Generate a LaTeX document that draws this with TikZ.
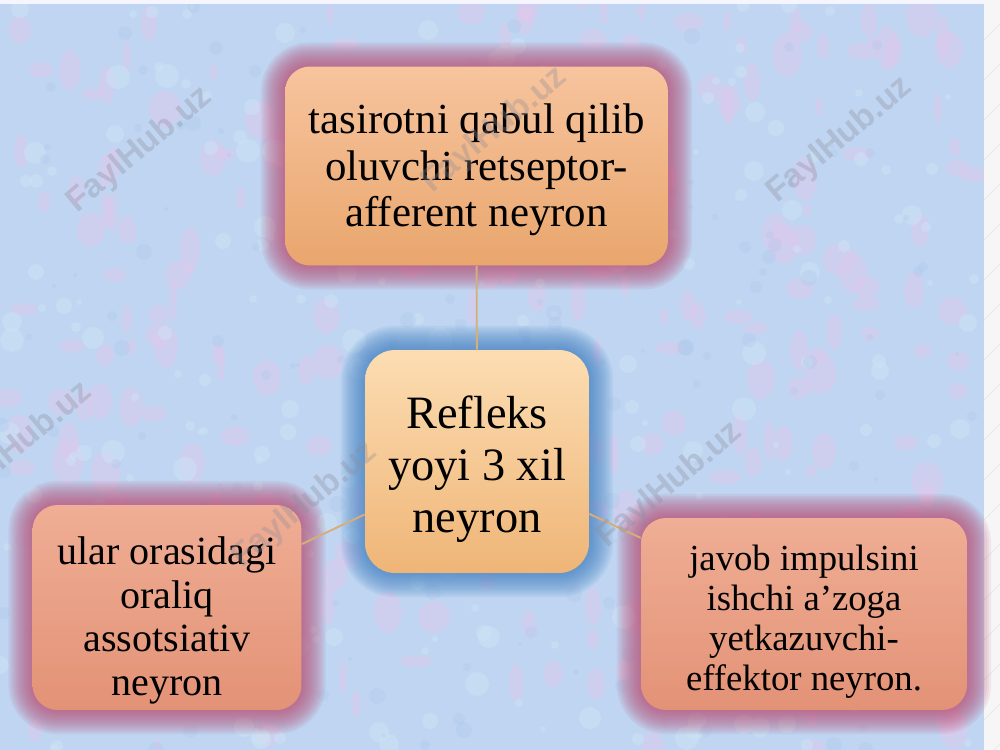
\documentclass[tikz,border=0pt]{standalone}
\usepackage{fontspec}
\setmainfont{Liberation Serif}
\newfontfamily\wmfont{Liberation Sans}
\pgfdeclarelayer{bglayer}
\pgfdeclarelayer{glowlayer}
\pgfsetlayers{bglayer,glowlayer,main}
\definecolor{bgblue}{HTML}{BFD5F1}
\definecolor{bgpink}{HTML}{E6C6EC}
\definecolor{bgcyan}{HTML}{CDE6F6}
\definecolor{bgdeep}{HTML}{AFC8EC}
\definecolor{glowpink}{HTML}{B8466C}
\definecolor{glowblue}{HTML}{3C7DC0}
\definecolor{linktan}{HTML}{D6AE78}
\definecolor{topA}{HTML}{F7C49E}
\definecolor{topB}{HTML}{E9A66D}
\definecolor{cenA}{HTML}{FCDDB2}
\definecolor{cenB}{HTML}{EFB577}
\definecolor{sideA}{HTML}{EFAE95}
\definecolor{sideB}{HTML}{E39276}
\definecolor{wmgray}{HTML}{8C8C9A}
\tikzset{
  box/.style={shape=rectangle, inner sep=0pt, rounded corners=0.5cm},
  label text/.style={align=center, inner sep=0pt},
  link/.style={draw=linktan, line width=1.1pt},
  wm/.style={font=\wmfont\bfseries\fontsize{19}{19}\selectfont, text=wmgray, opacity=0.33, rotate=40}
}
\newcommand{\glowbox}[3]{%
  \begin{pgfonlayer}{glowlayer}
  \foreach \w in {0.95,0.87,...,0.05}{
    \draw[#2, line width=\w cm, opacity=0.085, rounded corners=#3]
      (#1.north west) rectangle (#1.south east);
  }
  \end{pgfonlayer}}
\begin{document}
\begin{tikzpicture}[x=0.02cm,y=-0.02cm]
\useasboundingbox (0,0) rectangle (1000,750);
\begin{pgfonlayer}{bglayer}
  \fill[bgblue] (0,0) rectangle (984,750);
  \pgfmathsetseed{7}
  \foreach \i in {1,...,260}{
    \pgfmathsetmacro{\px}{random(0,975)}
    \pgfmathsetmacro{\py}{random(4,750)}
    \pgfmathsetmacro{\rx}{random(4,16)}
    \pgfmathsetmacro{\ry}{random(6,22)}
    \fill[bgpink, opacity=0.4] (\px,\py) ellipse [x radius=\rx*0.02cm, y radius=\ry*0.02cm];
  }
  \foreach \i in {1,...,260}{
    \pgfmathsetmacro{\px}{random(0,975)}
    \pgfmathsetmacro{\py}{random(4,750)}
    \pgfmathsetmacro{\rx}{random(3,12)}
    \fill[bgcyan, opacity=0.45] (\px,\py) circle [radius=\rx*0.02cm];
  }
  \foreach \i in {1,...,200}{
    \pgfmathsetmacro{\px}{random(0,975)}
    \pgfmathsetmacro{\py}{random(4,750)}
    \pgfmathsetmacro{\rx}{random(2,8)}
    \fill[bgdeep, opacity=0.35] (\px,\py) circle [radius=\rx*0.02cm];
  }
  \fill[white!96!blue] (0,0) rectangle (984,4);
  \fill[white!93!gray] (984,0) rectangle (1000,750);
  \foreach \k in {0,40,...,760}{
    \draw[white!80!gray, line width=0.3pt] (984,\k) -- (1000,\k-16);
  }
\end{pgfonlayer}

\node[box, top color=topA, bottom color=topB, minimum width=7.66cm, minimum height=3.98cm] (top) at (476.5,166) {};
\node[box, rounded corners=0.6cm, top color=cenA, bottom color=cenB, minimum width=4.48cm, minimum height=4.46cm] (cen) at (477,461.5) {};
\node[box, top color=sideA, bottom color=sideB, minimum width=5.38cm, minimum height=4.1cm] (left) at (167,607.5) {};
\node[box, top color=sideA, bottom color=sideB, minimum width=6.52cm, minimum height=3.84cm] (right) at (804,614) {};

\node[label text, font=\fontsize{24.4}{26.5}\selectfont] (toptext) at ([yshift=-0.08cm]top.center)
  {tasirotni qabul qilib\\oluvchi retseptor-\\afferent neyron};
\node[label text, font=\fontsize{26.4}{29.6}\selectfont] (centext) at ([yshift=-0.16cm]cen.center)
  {Refleks\\yoyi 3 xil\\neyron};
\node[label text, font=\fontsize{22.8}{24.7}\selectfont] (lefttext) at ([yshift=-0.26cm]left.center)
  {ular orasidagi\\oraliq\\assotsiativ\\neyron};
\node[label text, font=\fontsize{20.9}{22.7}\selectfont] (righttext) at ([yshift=-0.16cm]right.center)
  {javob impulsini\\ishchi a’zoga\\yetkazuvchi-\\effektor neyron.};

\glowbox{top}{glowpink}{0.5cm}
\glowbox{cen}{glowblue}{0.6cm}
\glowbox{left}{glowpink}{0.5cm}
\glowbox{right}{glowpink}{0.5cm}

\begin{pgfonlayer}{glowlayer}
  \draw[link] (top) -- (cen);
  \draw[link] (cen) -- (left);
  \draw[link] (cen) -- (right);
\end{pgfonlayer}

\node[wm] (w1) at (140,150) {FaylHub.uz};
\node[wm] (w2) at (495,130) {FaylHub.uz};
\node[wm] (w3) at (840,140) {FaylHub.uz};
\node[wm] (w4) at (20,445) {FaylHub.uz};
\node[wm] (w5) at (305,505) {FaylHub.uz};
\node[wm] (w6) at (670,485) {FaylHub.uz};
\end{tikzpicture}
\end{document}
